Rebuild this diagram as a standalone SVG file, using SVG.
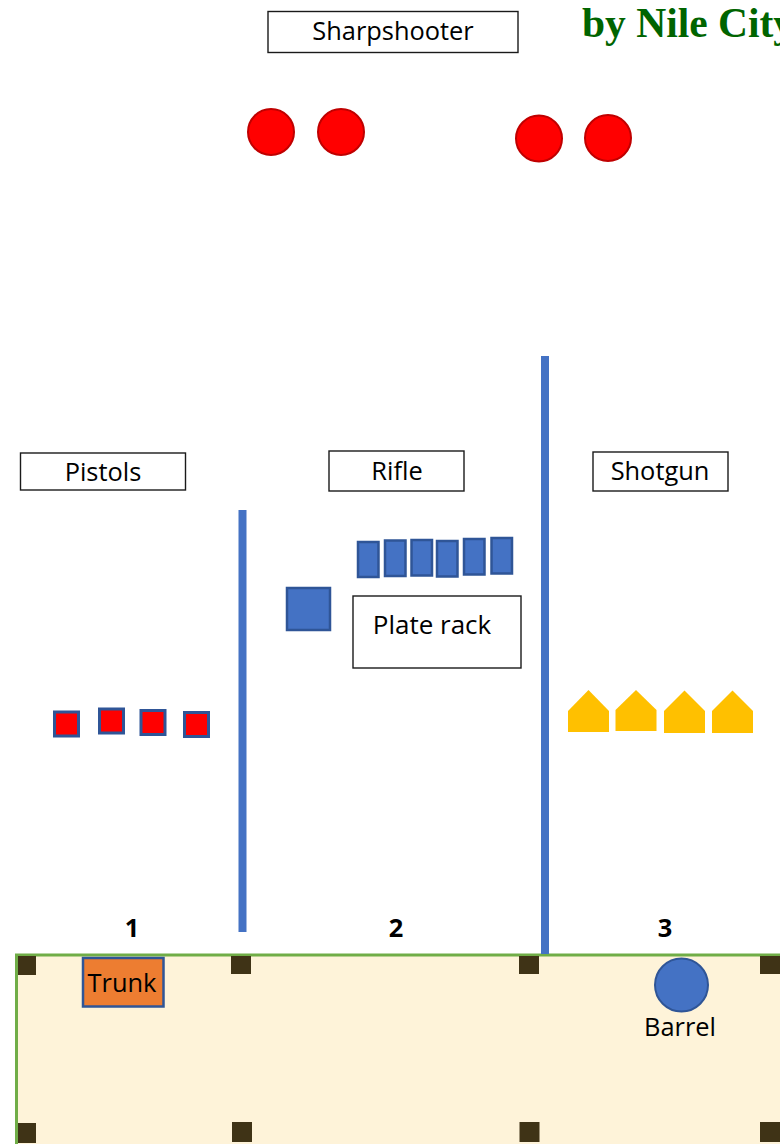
<svg xmlns="http://www.w3.org/2000/svg" width="780" height="1144" viewBox="0 0 780 1144">
<style>
text{font-family:"Open Sans","Noto Sans","Liberation Sans",sans-serif;font-size:25.4px;fill:#000;text-anchor:middle}
.box{fill:#fff;stroke:#1a1a1a;stroke-width:1.4}
.post{fill:#3f3316}
.red{fill:#f00;stroke:#c00000;stroke-width:2}
.tgt{fill:#f00;stroke:#2f5597;stroke-width:3}
.plate{fill:#4472c4;stroke:#2f5597;stroke-width:2.5}
.gold{fill:#ffc000}
.wall{fill:#4472c4}
.num{font-weight:700}
</style>
<g id="title"><text x="582" y="37" style="font-family:'Liberation Serif',serif;font-size:41.500px;font-weight:700;fill:#006400;text-anchor:start">by Nile City</text></g>
<g id="floor">
<rect x="16.500" y="955" width="770" height="195" fill="#fef3d9"/>
<path d="M16.500 1144V955H780" fill="none" stroke="#70ad47" stroke-width="3"/>
</g>
<g id="posts">
<rect class="post" x="18" y="956" width="18" height="19"/>
<rect class="post" x="231" y="956" width="20" height="18"/>
<rect class="post" x="519" y="956" width="20" height="18"/>
<rect class="post" x="760" y="956" width="20" height="18"/>
<rect class="post" x="18" y="1123" width="18" height="20"/>
<rect class="post" x="232" y="1122" width="20" height="20"/>
<rect class="post" x="519.500" y="1122" width="20" height="20"/>
<rect class="post" x="760" y="1122" width="20" height="20"/>
</g>
<g id="walls">
<rect class="wall" x="238.500" y="510" width="8" height="422"/>
<rect class="wall" x="541" y="356" width="8" height="598"/>
</g>
<g id="sharpshooter"><rect class="box" x="268" y="11.500" width="250" height="41"/><text x="393" y="40">Sharpshooter</text></g>
<g id="pistols"><rect class="box" x="20.500" y="453" width="165" height="37"/><text x="103" y="481">Pistols</text></g>
<g id="rifle"><rect class="box" x="329" y="451" width="135" height="40"/><text x="397" y="480">Rifle</text></g>
<g id="shotgun"><rect class="box" x="593" y="452" width="135" height="39"/><text x="660" y="480">Shotgun</text></g>
<g id="plate-rack"><rect class="box" x="353" y="596" width="168" height="72"/><text x="432" y="634" style="font-size:26px">Plate rack</text></g>
<g id="sharpshooter-targets">
<circle class="red" cx="271" cy="132" r="23"/>
<circle class="red" cx="341" cy="132" r="23"/>
<circle class="red" cx="539" cy="138.500" r="23"/>
<circle class="red" cx="608" cy="138" r="23"/>
</g>
<g id="pistol-targets">
<rect class="tgt" x="54.500" y="712" width="24" height="24"/>
<rect class="tgt" x="99.500" y="709" width="24" height="24"/>
<rect class="tgt" x="141" y="710.500" width="24" height="24"/>
<rect class="tgt" x="184.500" y="712.500" width="24" height="24"/>
</g>
<g id="rifle-targets">
<rect class="plate" x="287" y="588" width="43" height="42"/>
<rect class="plate" x="358" y="542" width="20.500" height="35"/>
<rect class="plate" x="385" y="540.500" width="20.500" height="35.500"/>
<rect class="plate" x="411.500" y="540" width="20.500" height="35.500"/>
<rect class="plate" x="437" y="541" width="20.500" height="35.500"/>
<rect class="plate" x="464" y="539" width="20.500" height="35.500"/>
<rect class="plate" x="491.500" y="538" width="20.500" height="35.500"/>
</g>
<g id="shotgun-targets">
<path class="gold" d="M568 711 588.500 690 609 711V732H568Z"/>
<path class="gold" d="M615.500 710 636 690 656.500 710V731H615.500Z"/>
<path class="gold" d="M664 711 684.500 690.500 705 711V733H664Z"/>
<path class="gold" d="M712 711 732.500 690.500 753 711V733H712Z"/>
</g>
<g id="bay-numbers">
<text class="num" x="132" y="937">1</text>
<text class="num" x="396" y="937">2</text>
<text class="num" x="665" y="937">3</text>
</g>
<g id="trunk"><rect x="83" y="958" width="80.500" height="48.500" fill="#ed7d31" stroke="#2f5597" stroke-width="2.500"/><text x="122" y="992">Trunk</text></g>
<g id="barrel"><circle cx="681.500" cy="985" r="26.500" fill="#4472c4" stroke="#2f5597" stroke-width="2"/><text x="680" y="1036">Barrel</text></g>
</svg>
